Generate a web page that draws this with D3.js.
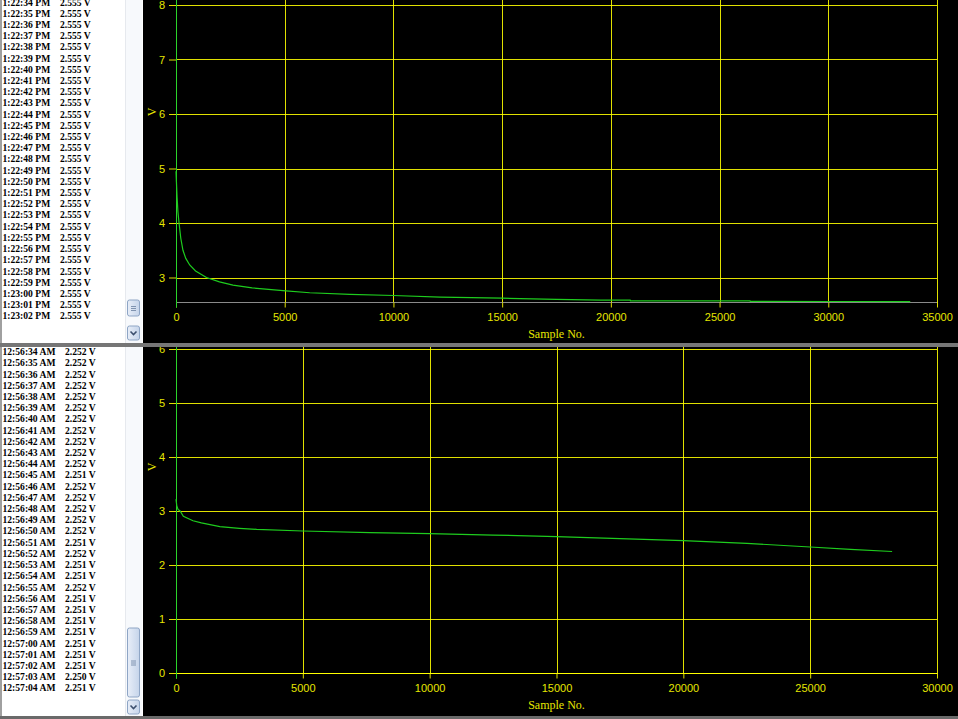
<!DOCTYPE html>
<html>
<head>
<meta charset="utf-8">
<script src="https://cdn.jsdelivr.net/npm/d3@7"></script>
<style>
  body { margin: 0; background: #000; overflow: hidden; }
  svg { display: block; }
  .list text { font-family: "Liberation Serif", "Times New Roman", serif; font-weight: bold; font-size: 9.6px; fill: #000; }
  .tick text { font-family: "Liberation Sans", Arial, sans-serif; font-size: 11px; fill: #e6e600; }
  .axis-title { font-family: "Liberation Serif", "Times New Roman", serif; font-size: 12px; fill: #e6e600; }
  .grid { shape-rendering: crispEdges; }
</style>
</head>
<body>
<svg id="chart" width="958" height="719"></svg>
<script>
// logged readings shown in the two side lists
const topTimes = ["1:22:34 PM","1:22:35 PM","1:22:36 PM","1:22:37 PM","1:22:38 PM","1:22:39 PM","1:22:40 PM",
  "1:22:41 PM","1:22:42 PM","1:22:43 PM","1:22:44 PM","1:22:45 PM","1:22:46 PM","1:22:47 PM","1:22:48 PM",
  "1:22:49 PM","1:22:50 PM","1:22:51 PM","1:22:52 PM","1:22:53 PM","1:22:54 PM","1:22:55 PM","1:22:56 PM",
  "1:22:57 PM","1:22:58 PM","1:22:59 PM","1:23:00 PM","1:23:01 PM","1:23:02 PM"]
const topReadings = topTimes.map(() => "2.555 V")

const bottomTimes = ["12:56:34 AM","12:56:35 AM","12:56:36 AM","12:56:37 AM","12:56:38 AM","12:56:39 AM",
  "12:56:40 AM","12:56:41 AM","12:56:42 AM","12:56:43 AM","12:56:44 AM","12:56:45 AM","12:56:46 AM",
  "12:56:47 AM","12:56:48 AM","12:56:49 AM","12:56:50 AM","12:56:51 AM","12:56:52 AM","12:56:53 AM",
  "12:56:54 AM","12:56:55 AM","12:56:56 AM","12:56:57 AM","12:56:58 AM","12:56:59 AM","12:57:00 AM",
  "12:57:01 AM","12:57:02 AM","12:57:03 AM","12:57:04 AM"]
const bottomReadings = ["2.252 V","2.252 V","2.252 V","2.252 V","2.252 V","2.252 V","2.252 V","2.252 V",
  "2.252 V","2.252 V","2.252 V","2.251 V","2.252 V","2.252 V","2.252 V","2.252 V","2.252 V","2.251 V",
  "2.252 V","2.251 V","2.251 V","2.252 V","2.251 V","2.251 V","2.251 V","2.251 V","2.251 V","2.251 V",
  "2.251 V","2.250 V","2.251 V"]

// discharge curves (sample no. / volts)
const topSamples = [0, 20, 50, 90, 140, 220, 320, 450, 630, 900, 1400, 2000, 2620, 3500, 4920, 6150,
  8000, 10000, 12150, 15000, 17500, 19530, 20890, 20900, 26400, 26410, 30000, 33770]
const topVolts = [4.95, 4.75, 4.47, 4.2, 4.0, 3.72, 3.5, 3.35, 3.23, 3.12, 3.0, 2.92, 2.86, 2.81, 2.76, 2.72,
  2.69, 2.67, 2.64, 2.62, 2.6, 2.585, 2.585, 2.572, 2.572, 2.562, 2.56, 2.558]

const bottomSamples = [0, 30, 80, 160, 290, 670, 1000, 1730, 2500, 3180, 5000, 7650, 10000, 12500, 15000,
  17500, 20000, 22500, 25000, 26580, 28230]
const bottomVolts = [3.22, 3.1, 3.03, 3.0, 2.9, 2.82, 2.78, 2.71, 2.68, 2.66, 2.63, 2.6, 2.58, 2.555, 2.526,
  2.49, 2.45, 2.4, 2.333, 2.29, 2.25]

const topXTicks = [0, 5000, 10000, 15000, 20000, 25000, 30000, 35000]
const topYTicks = [3, 4, 5, 6, 7, 8]
const bottomXTicks = [0, 5000, 10000, 15000, 20000, 25000, 30000]
const bottomYTicks = [0, 1, 2, 3, 4, 5, 6]

const svg = d3.select("#chart")
const gridColor = "#ffff00"

function drawList(g, times, readings, opts) {
    g.attr("class", "list")
    g.append("rect").attr("x", 0).attr("y", opts.top).attr("width", 2).attr("height", opts.height).attr("fill", "#a0a0a0")
    g.append("rect").attr("x", 2).attr("y", opts.top).attr("width", 141).attr("height", opts.height).attr("fill", "#fff")
    g.append("rect").attr("x", 125).attr("y", opts.top).attr("width", 17).attr("height", opts.height).attr("fill", "#f7f9fc")
    g.append("line").attr("x1", 125.5).attr("x2", 125.5).attr("y1", opts.top).attr("y2", opts.top + opts.height)
        .attr("stroke", "#e6e9ee")

    const rows = g.selectAll("g.row").data(times).join("g").attr("class", "row")
        .attr("transform", (d, i) => "translate(0," + (opts.firstRow + i * 11.21 + 3.4) + ")")
    rows.append("text").attr("x", 2.5).text(d => d)
    rows.append("text").attr("x", opts.valueX).text((d, i) => readings[i])

    // scrollbar thumb
    g.append("rect").attr("x", 127.5).attr("y", opts.thumbTop).attr("width", 12).attr("height", opts.thumbHeight)
        .attr("rx", 2).attr("fill", "url(#thumbGrad)").attr("stroke", "#8ea5c5")
    const gy = opts.thumbTop + opts.thumbHeight / 2
    ;[-2, 0, 2].forEach(o => {
        g.append("line").attr("x1", 131).attr("x2", 136).attr("y1", gy + o + 0.5).attr("y2", gy + o + 0.5)
            .attr("stroke", "#7f93b0")
    })
    // down arrow button
    g.append("rect").attr("x", 127.5).attr("y", opts.arrowTop).attr("width", 12).attr("height", 14)
        .attr("rx", 2).attr("fill", "url(#thumbGrad)").attr("stroke", "#8ea5c5")
    g.append("path").attr("d", "M130.5," + (opts.arrowTop + 5.5) + " l3,3 l3,-3")
        .attr("fill", "none").attr("stroke", "#3c4f6e").attr("stroke-width", 1.6)
}

function drawPlot(g, cfg) {
    const x = d3.scaleLinear().domain([0, cfg.xMax]).range([176, 937])
    const y = d3.scaleLinear().domain(cfg.yDomain).range(cfg.yRange)
    const axisY = Math.round(y(cfg.yMin)) + 0.5

    const grid = g.append("g").attr("class", "grid").attr("stroke", gridColor).attr("stroke-opacity", 0.88)
    // vertical grid lines
    grid.selectAll("line.vgrid").data(cfg.xTicks).join("line").attr("class", "vgrid")
        .attr("x1", d => Math.round(x(d)) + 0.5).attr("x2", d => Math.round(x(d)) + 0.5)
        .attr("y1", cfg.plotTop).attr("y2", axisY)
    // horizontal grid lines
    grid.selectAll("line.hgrid").data(cfg.yTicks).join("line").attr("class", "hgrid")
        .attr("x1", 176).attr("x2", 937)
        .attr("y1", d => Math.round(y(d)) + 0.5).attr("y2", d => Math.round(y(d)) + 0.5)

    // x axis base line
    g.append("line").attr("x1", 176).attr("x2", 937).attr("y1", axisY).attr("y2", axisY)
        .attr("stroke", cfg.baseColor)

    const xAxis = d3.axisBottom(x).tickValues(cfg.xTicks).tickFormat(d3.format("d"))
        .tickSizeInner(5).tickSizeOuter(0).tickPadding(6)
    const xg = g.append("g").attr("transform", "translate(0," + axisY + ")").call(xAxis)
    xg.select(".domain").remove()
    xg.selectAll(".tick line").attr("stroke", gridColor).attr("stroke-opacity", 0.88)

    const yAxis = d3.axisLeft(y).tickValues(cfg.yTicks).tickFormat(d3.format("d"))
        .tickSizeInner(7).tickSizeOuter(0).tickPadding(4)
    const yg = g.append("g").attr("transform", "translate(176,0)").call(yAxis)
    yg.select(".domain").remove()
    yg.selectAll(".tick line").attr("stroke", gridColor).attr("stroke-opacity", 0.88)

    // y axis line (green)
    g.append("line").attr("x1", 176.5).attr("x2", 176.5).attr("y1", cfg.plotTop).attr("y2", axisY + 5)
        .attr("stroke", "#2ad42a")

    g.append("text").attr("class", "axis-title").attr("x", 556.5).attr("y", axisY + 35)
        .attr("text-anchor", "middle").text("Sample No.")
    g.append("text").attr("class", "axis-title")
        .attr("transform", "translate(156," + cfg.vLabelY + ") rotate(-90)")
        .attr("text-anchor", "middle").text("V")

    const line = d3.line().x((d, i) => x(cfg.samples[i])).y(d => y(d))
    g.append("path").datum(cfg.volts).attr("d", line)
        .attr("fill", "none").attr("stroke", "#1ecc1e").attr("stroke-width", 1.2)
}

const defs = svg.append("defs")
const grad = defs.append("linearGradient").attr("id", "thumbGrad").attr("x1", 0).attr("x2", 1).attr("y1", 0).attr("y2", 0)
grad.append("stop").attr("offset", 0).attr("stop-color", "#e8eef8")
grad.append("stop").attr("offset", 1).attr("stop-color", "#c5d4ea")

svg.append("rect").attr("width", 958).attr("height", 719).attr("fill", "#000")

drawList(svg.append("g"), topTimes, topReadings,
    { top: 0, height: 343, firstRow: 2.1, valueX: 60, thumbTop: 300, thumbHeight: 16, arrowTop: 326 })
drawList(svg.append("g"), bottomTimes, bottomReadings,
    { top: 347, height: 369, firstRow: 351.7, valueX: 65, thumbTop: 628, thumbHeight: 69, arrowTop: 700 })

drawPlot(svg.append("g"), {
    xMax: 35000, xTicks: topXTicks, yTicks: topYTicks,
    yDomain: [3, 8], yRange: [277.5, 5], yMin: 2.555, plotTop: 0, baseColor: "#8a8a8a",
    vLabelY: 112, samples: topSamples, volts: topVolts
})
drawPlot(svg.append("g"), {
    xMax: 30000, xTicks: bottomXTicks, yTicks: bottomYTicks,
    yDomain: [0, 6], yRange: [673, 349], yMin: 0, plotTop: 347, baseColor: gridColor,
    vLabelY: 467, samples: bottomSamples, volts: bottomVolts
})

// window separators
svg.append("rect").attr("x", 0).attr("y", 343).attr("width", 958).attr("height", 4).attr("fill", "#767676")
svg.append("rect").attr("x", 0).attr("y", 716).attr("width", 958).attr("height", 3).attr("fill", "#6a6a6a")
</script>
</body>
</html>
